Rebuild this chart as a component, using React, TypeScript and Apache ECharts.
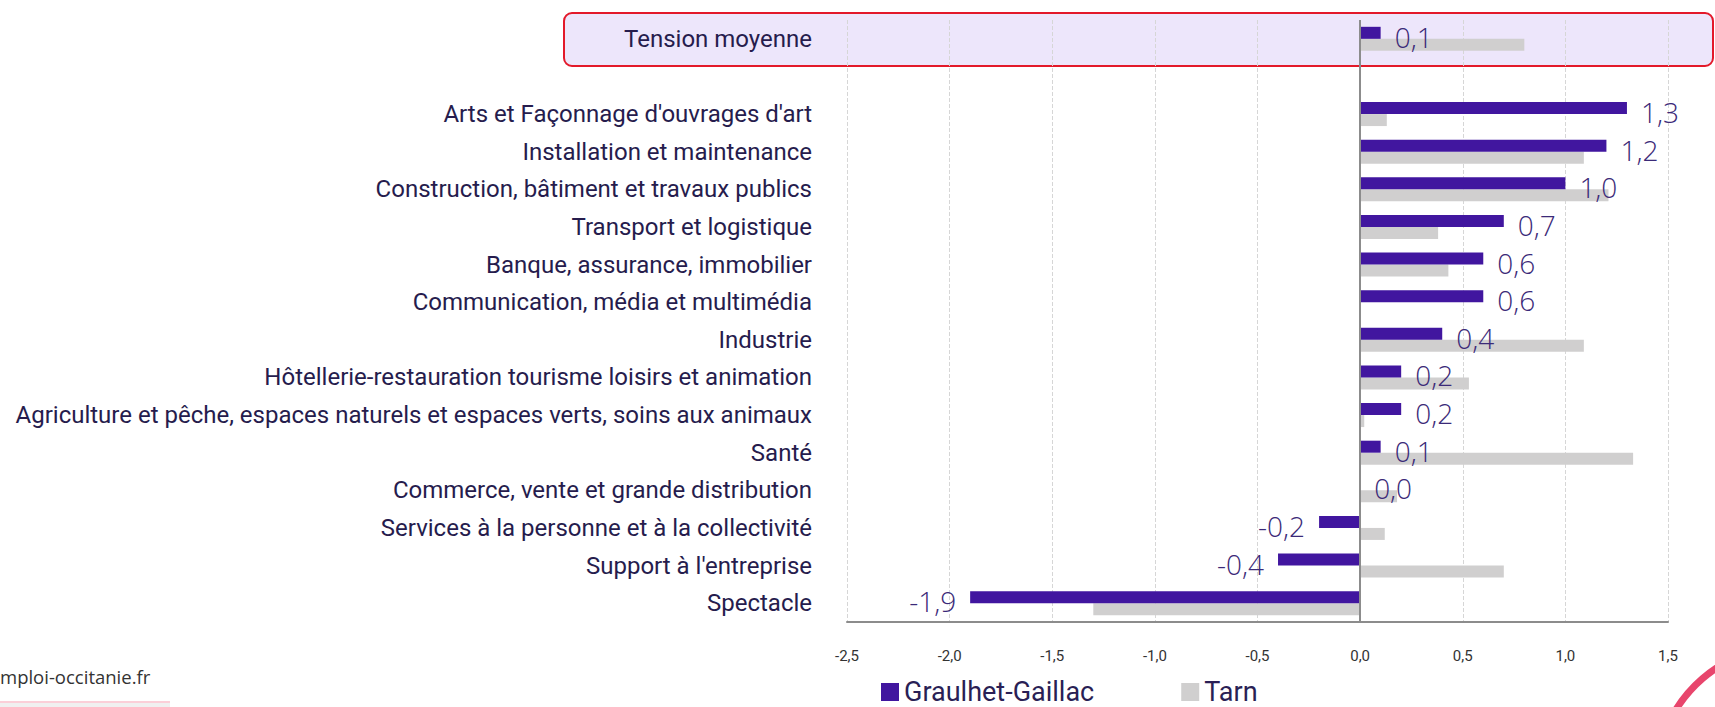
import React, { useEffect, useRef } from "react";
import * as echarts from "echarts";

const categories = [
  "Tension moyenne",
  "",
  "Arts et Façonnage d'ouvrages d'art",
  "Installation et maintenance",
  "Construction, bâtiment et travaux publics",
  "Transport et logistique",
  "Banque, assurance, immobilier",
  "Communication, média et multimédia",
  "Industrie",
  "Hôtellerie-restauration tourisme loisirs et animation",
  "Agriculture et pêche, espaces naturels et espaces verts, soins aux animaux",
  "Santé",
  "Commerce, vente et grande distribution",
  "Services à la personne et à la collectivité",
  "Support à l'entreprise",
  "Spectacle",
];

const graulhetGaillac: (number | null)[] = [
  0.1, null, 1.3, 1.2, 1.0, 0.7, 0.6, 0.6, 0.4, 0.2, 0.2, 0.1, 0.0, -0.2, -0.4, -1.9,
];

const tarn: (number | null)[] = [
  0.8, null, 0.13, 1.09, 1.21, 0.38, 0.43, 0, 1.09, 0.53, 0.02, 1.33, 0.18, 0.12, 0.7, -1.3,
];

const seriesNames = ["Graulhet-Gaillac", "Tarn"];
const footerText = "mploi-occitanie.fr";

const fmt = (v: number) => v.toFixed(1).replace(".", ",");

export default function App() {
  const ref = useRef<HTMLDivElement>(null);

  useEffect(() => {
    if (!ref.current) return;
    const chart = echarts.init(ref.current, undefined, { renderer: "svg" });
    const labelFont = "Roboto";
    chart.setOption({
      animation: false,
      backgroundColor: "#ffffff",
      textStyle: { fontFamily: labelFont },
      grid: { left: 847, right: 47, top: 20, bottom: 85, containLabel: false },
      legend: {
        left: 881,
        top: 678,
        icon: "rect",
        itemWidth: 18,
        itemHeight: 18,
        itemGap: 87,
        padding: 0,
        textStyle: { fontSize: 27, color: "#2a1f55", fontFamily: labelFont, lineHeight: 28 },
        data: seriesNames,
      },
      xAxis: {
        type: "value",
        min: -2.5,
        max: 1.5,
        interval: 0.5,
        axisLine: { show: true, lineStyle: { color: "#8c8c8c", width: 2 } },
        axisTick: { show: false },
        axisLabel: {
          margin: 26,
          fontSize: 15,
          color: "#333333",
          formatter: (v: number) => fmt(v),
        },
        splitLine: { show: true, lineStyle: { color: "#d6d6d6", type: "dashed", width: 1 } },
      },
      yAxis: {
        type: "category",
        inverse: true,
        data: categories,
        axisLine: { show: false },
        axisTick: { show: false },
        splitLine: { show: false },
        axisLabel: { margin: 35, fontSize: 24, color: "#261c4d", fontFamily: labelFont },
      },
      series: [
        {
          name: seriesNames[0],
          type: "bar",
          barWidth: 12,
          barGap: "0%",
          itemStyle: { color: "#41169f" },
          z: 3,
          data: graulhetGaillac.map((v) =>
            v === null
              ? null
              : {
                  value: v,
                  label: { position: v < 0 ? "left" : "right" },
                }
          ),
          label: {
            show: true,
            distance: 14,
            offset: [0, 4],
            fontSize: 28,
            fontFamily: "Open Sans",
            fontWeight: 300,
            color: "#3b2a78",
            formatter: (p: any) => fmt(Number(p.value)),
          },
          markLine: {
            silent: true,
            symbol: ["none", "none"],
            label: { show: false },
            lineStyle: { color: "#8c8c8c", width: 2, type: "solid" },
            data: [{ xAxis: 0 }],
          },
        },
        {
          name: seriesNames[1],
          type: "bar",
          barWidth: 12,
          barGap: "0%",
          itemStyle: { color: "#d0cfcf" },
          z: 2,
          data: tarn,
        },
      ],
      graphic: [
        {
          type: "rect",
          z: -10,
          shape: { x: 564, y: 13, width: 1149, height: 53, r: 8 },
          style: { fill: "#ede6fb", stroke: "#e3192a", lineWidth: 2 },
        },
        {
          type: "text",
          left: 0,
          top: 667,
          style: { text: footerText, fontSize: 18.5, fill: "#333333", fontFamily: "Open Sans" },
        },
        {
          type: "rect",
          shape: { x: 0, y: 701, width: 170, height: 2 },
          style: { fill: "#fbcfd8" },
        },
        {
          type: "rect",
          shape: { x: 0, y: 703, width: 170, height: 4 },
          style: { fill: "#f0f0f0" },
        },
        {
          type: "arc",
          shape: { cx: 1790, cy: 780, r: 134, startAngle: 3.55, endAngle: 4.45 },
          style: { stroke: "#e8456c", lineWidth: 7, fill: "none" },
        },
      ],
    });
    return () => chart.dispose();
  }, []);

  return (
    <div
      ref={ref}
      style={{ position: "fixed", left: 0, top: 0, width: 1715, height: 707 }}
    />
  );
}
